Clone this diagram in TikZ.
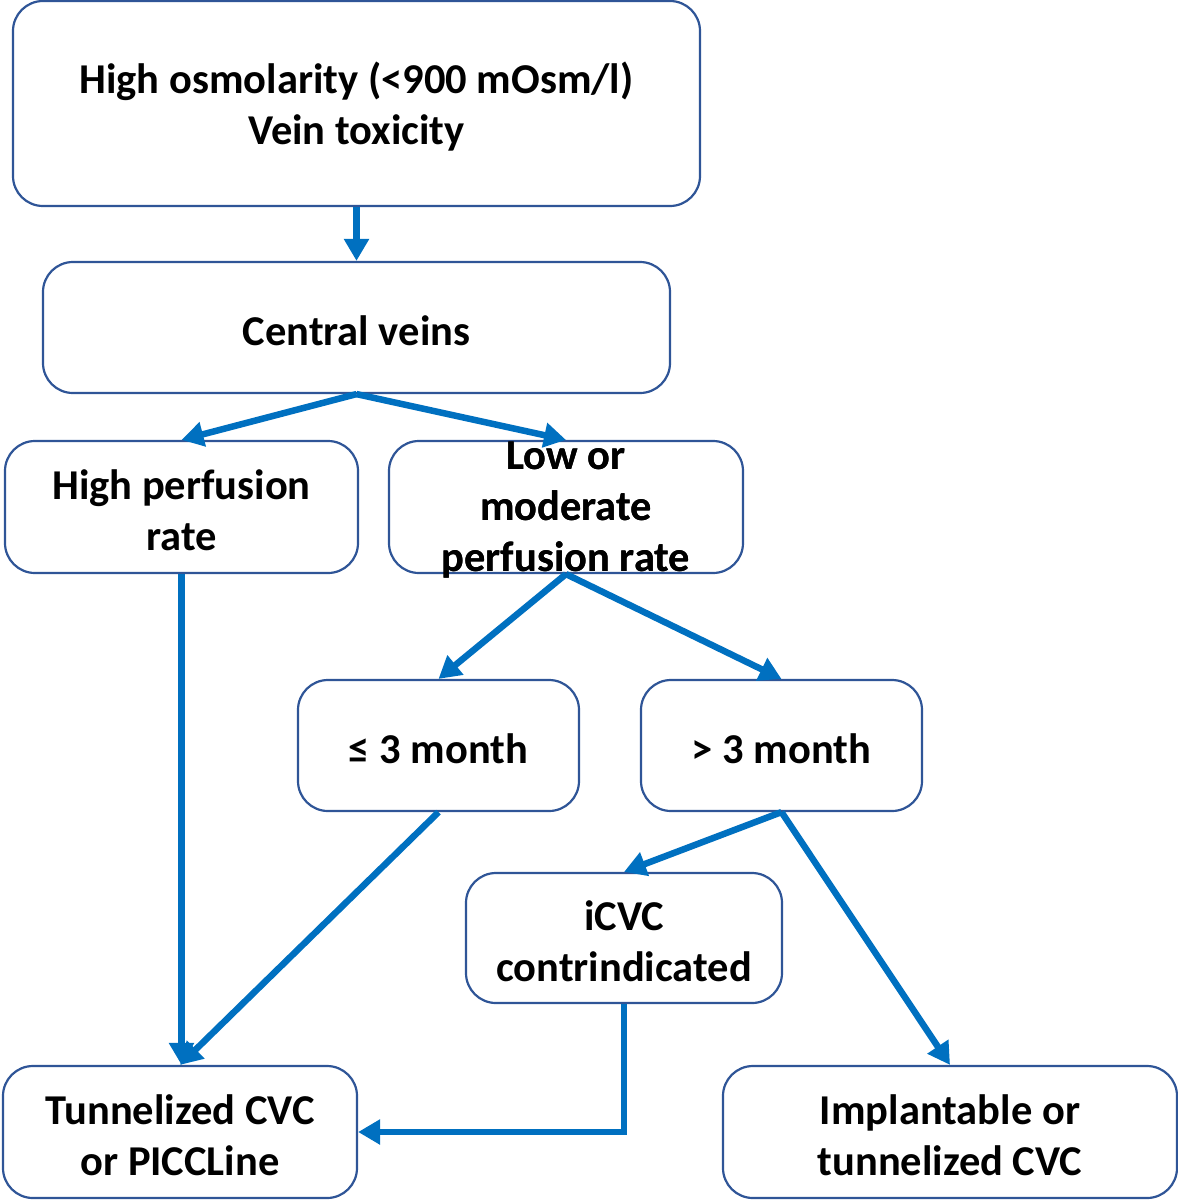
\documentclass[tikz,border=0pt]{standalone}
\usepackage{fontspec}
\setmainfont{Carlito}
\usetikzlibrary{arrows.meta}
\definecolor{boxline}{HTML}{2F5597}
\definecolor{arrowblue}{HTML}{0070C0}
\tikzset{
  box/.style={draw=boxline, line width=2.2pt, rounded corners=30pt, fill=white, inner sep=0pt},
  txt/.style={align=center, inner sep=0pt, yshift=-3pt, font=\fontsize{42.5}{51}\selectfont\bfseries},
  conn/.style={draw=arrowblue, line width=6.5pt, -{Triangle[length=22pt,width=24pt]}},
}
\newcommand{\boxat}[6]{% name, x1, y1, x2, y2, text
  \node[box, minimum width={#4-#2}, minimum height={#5-#3}] (#1) at ({(#2+#4)/2},{(#3+#5)/2}) {};
  \node[txt] (#1t) at (#1.center) {#6};
}
\begin{document}
\begin{tikzpicture}[x=1pt,y=-1pt]
\useasboundingbox (0,0) rectangle (1178,1203);
\boxat{top}{13}{1}{700}{206}{High osmolarity (<900 mOsm/l)\\Vein toxicity}
\boxat{cv}{43}{262}{670}{393}{Central veins}
\boxat{hp}{5}{441}{358}{573}{High perfusion\\rate}
\boxat{lo}{389}{441}{743}{573}{Low or\\moderate\\perfusion rate}
\boxat{le}{298}{680}{579}{811}{≤ 3 month}
\boxat{gt}{641}{680}{922}{811}{> 3 month}
\boxat{ic}{466}{873}{782}{1003}{iCVC\\contrindicated}
\boxat{tun}{3}{1066}{357}{1198}{Tunnelized CVC\\or PICCLine}
\boxat{imp}{723}{1066}{1177}{1198}{Implantable or\\tunnelized CVC}
\node[txt] (lot) at (lo.center) {Low or\\moderate\\perfusion rate};
\coordinate (bend) at (ic.south |- tun.east);
\draw[conn] (top.south) -- (cv.north);
\draw[conn] (cv.south) -- (hp.north);
\draw[conn] (cv.south) -- (lo.north);
\draw[conn] (hp.south) -- (hp.south |- tun.north);
\draw[conn] (lo.south) -- (le.north);
\draw[conn] (lo.south) -- (gt.north);
\draw[conn] (le.south) -- (tun.north);
\draw[conn] (gt.south) -- (ic.north);
\draw[conn] (gt.south) -- (imp.north);
\draw[conn] (ic.south) -- (bend) -- (tun.east);
\end{tikzpicture}
\end{document}
